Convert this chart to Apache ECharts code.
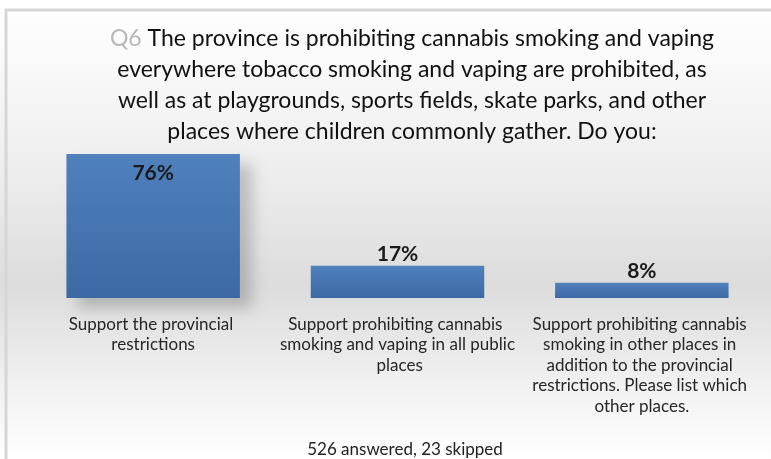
<!DOCTYPE html>
<html>
<head>
<meta charset="utf-8">
<script src="https://cdn.jsdelivr.net/npm/echarts@6/dist/echarts.min.js"></script>
<style>
  html, body { margin: 0; padding: 0; background: #fff; }
  #chart { width: 771px; height: 459px; }
</style>
</head>
<body>
<div id="chart"></div>
<script>
  let questionTag = 'Q6'
  let questionText = ' The province is prohibiting cannabis smoking and vaping\neverywhere tobacco smoking and vaping are prohibited, as\nwell as at playgrounds, sports fields, skate parks, and other\nplaces where children commonly gather. Do you:'
  let categories = [
    'Support the provincial restrictions',
    'Support prohibiting cannabis smoking and vaping in all public places',
    'Support prohibiting cannabis smoking in other places in addition to the provincial restrictions. Please list which other places.'
  ]
  let values = [76, 17, 8]
  let footer = '526 answered, 23 skipped'

  let font = 'Lato, "Open Sans", sans-serif'
  let myChart = echarts.init(document.getElementById('chart'))

  let barColor = new echarts.graphic.LinearGradient(0, 0, 0, 1, [
    {offset: 0, color: '#4f81bd'},
    {offset: 1, color: '#3c69a3'}
  ])

  let data = values.map((v, i) => {
    let item = {
      value: v,
      label: {position: i === 0 ? 'insideTop' : 'top', distance: i === 0 ? 9 : 1}
    }
    if (i === 0) {
      item.itemStyle = {
        shadowColor: 'rgba(0,0,0,0.2)',
        shadowBlur: 14,
        shadowOffsetX: 12,
        shadowOffsetY: 10
      }
    }
    return item
  })

  let option = {
    backgroundColor: new echarts.graphic.LinearGradient(0, 0, 0, 1, [
      {offset: 0, color: '#ffffff'},
      {offset: 0.1, color: '#fbfbfb'},
      {offset: 0.4, color: '#ececec'},
      {offset: 0.62, color: '#dcdcdc'},
      {offset: 0.85, color: '#f2f2f2'},
      {offset: 1, color: '#ffffff'}
    ]),
    graphic: [
      {
        type: 'rect',
        shape: {x: 6, y: 10, width: 780, height: 460},
        style: {fill: 'none', stroke: '#d6d6d6', lineWidth: 3},
        silent: true
      },
      {
        type: 'text',
        x: 412,
        y: 23,
        style: {
          text: '{q|' + questionTag + '}' + questionText,
          align: 'center',
          font: '23px ' + font,
          fill: '#111',
          lineHeight: 31,
          rich: {
            q: {fill: '#b8b8b8', font: '23px ' + font}
          }
        }
      },
      {
        type: 'text',
        x: 405,
        y: 441,
        style: {
          text: footer,
          align: 'center',
          font: '17px ' + font,
          fill: '#222'
        }
      }
    ],
    grid: {
      left: 31,
      right: 7,
      top: 154,
      bottom: 161
    },
    xAxis: {
      type: 'category',
      data: categories,
      axisLine: {show: false},
      axisTick: {show: false},
      axisLabel: {
        interval: 0,
        width: 236,
        overflow: 'break',
        fontFamily: font,
        fontSize: 17,
        lineHeight: 20.5,
        color: '#262626',
        margin: 16
      }
    },
    yAxis: {
      type: 'value',
      min: 0,
      max: 76,
      show: false,
      splitLine: {show: false}
    },
    series: [{
      type: 'bar',
      data: data,
      barWidth: '71%',
      itemStyle: {color: barColor},
      label: {
        show: true,
        formatter: '{c}%',
        fontFamily: font,
        fontSize: 21,
        fontWeight: 'bold',
        color: '#1a1a1a'
      }
    }]
  }
  myChart.setOption(option)
</script>
</body>
</html>
